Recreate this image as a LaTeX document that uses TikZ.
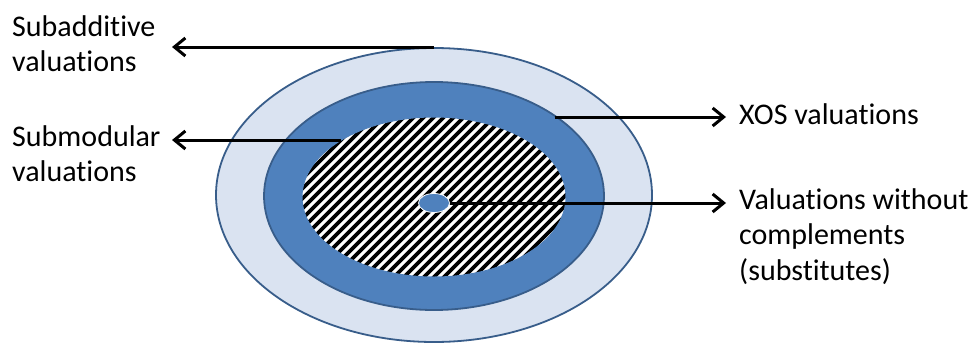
\documentclass[tikz,border=0pt]{standalone}
\usepackage{fontspec}
\setmainfont{Carlito}[RawFeature={-liga;-clig;-calt;-dlig}]
\usetikzlibrary{arrows.meta,shapes.geometric}
\definecolor{lightblue}{HTML}{DAE3F1}
\definecolor{midblue}{HTML}{4F81BD}
\definecolor{edgeblue}{HTML}{385D8A}
\tikzset{
  ring/.style={ellipse, inner sep=0pt, outer sep=0pt, draw=edgeblue, line width=1.8pt},
  lbl/.style={anchor=north west, inner sep=0pt, align=left, font=\fontsize{30}{35.5}\selectfont},
  pointer/.style={line width=3pt, -{Straight Barb[length=11pt,width=18pt,line width=3pt]}}
}
\begin{document}
\begin{tikzpicture}[x=1pt,y=-1pt]
\useasboundingbox[fill=white] (0,0) rectangle (977,343);
% ellipses
\node[ring, fill=lightblue, minimum width=436pt, minimum height=294pt] (outer) at (434,195) {};
\node[ring, fill=midblue, minimum width=340pt, minimum height=228pt] (middle) at (434,196) {};
\node[ellipse, inner sep=0pt, outer sep=0pt, fill=white, draw=midblue, line width=1pt,
      minimum width=264pt, minimum height=160pt,
      path picture={
        \foreach \i in {-330,-320,...,330}
          \draw[line width=3.7pt, black]
            ([shift={(\i pt-150pt,-150pt)}]path picture bounding box.center) --
            ([shift={(\i pt+150pt,150pt)}]path picture bounding box.center);
      }] (inner) at (434,197) {};
\node[ellipse, inner sep=0pt, outer sep=0pt, fill=midblue, draw=white, line width=0.8pt,
      minimum width=31pt, minimum height=19pt] (small) at (434,203) {};
% arrow end points
\coordinate (p1) at (434,47);
\coordinate (t1) at (172,47);
\coordinate (p2) at (341,140);
\coordinate (t2) at (172,140);
\coordinate (p3) at (555,117);
\coordinate (t3) at (726,117);
\coordinate (t4) at (726,203);
% labels
\node[lbl] (subadd) at (12,15) {Subadditive\\valuations};
\node[lbl] (submod) at (12,125) {Submodular\\valuations};
\node[lbl] (xos) at (739,103) {XOS valuations};
\node[lbl] (nocomp) at (739,188) {Valuations without\\complements\\(substitutes)};
% arrows
\draw[pointer] (p1) -- (t1);
\draw[pointer] (p2) -- (t2);
\draw[pointer] (p3) -- (t3);
\draw[pointer] (small.east) -- (t4);
\end{tikzpicture}
\end{document}
